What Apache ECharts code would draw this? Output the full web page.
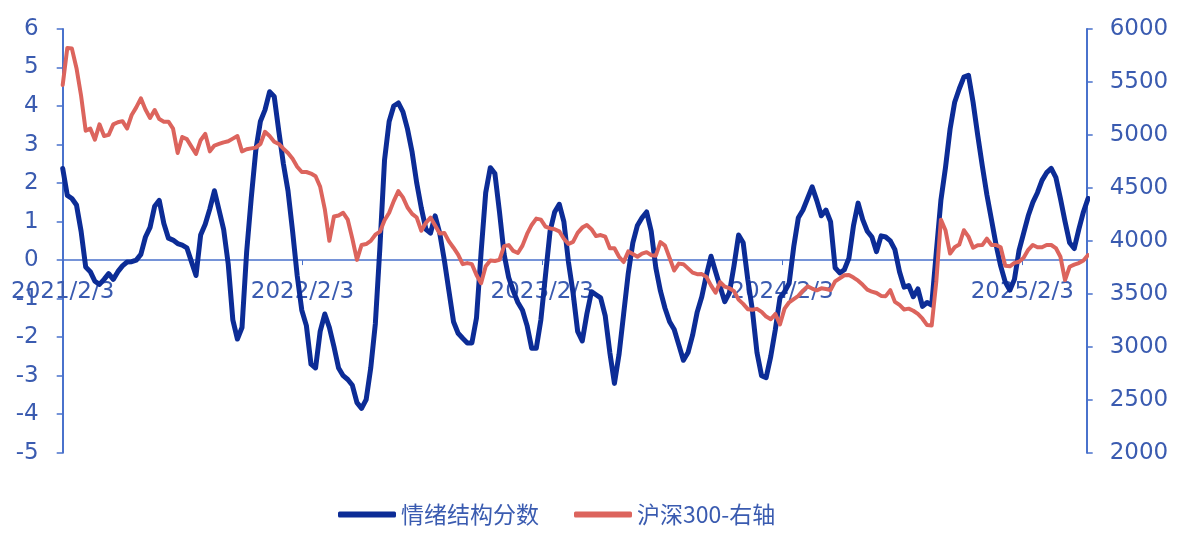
<!DOCTYPE html>
<html><head><meta charset="utf-8">
<script src="https://cdn.jsdelivr.net/npm/echarts@6/dist/echarts.min.js"></script>
<style>html,body{margin:0;padding:0;background:#fff}#c{width:1188px;height:540px}</style>
</head><body><div id="c"></div>
<script>
// Weekly samples starting 2021-02-03
const startDate = [2021, 1, 3];
const endDate = [2025, 4, 12];
const stepDays = 7;
const xTickLabels = ['2021/2/3', '2022/2/3', '2023/2/3', '2024/2/3', '2025/2/3'];
const seriesNames = ['情绪结构分数', '沪深300-右轴'];
const leftTicks = { min: -5, max: 6, interval: 1 };
const rightTicks = { min: 2000, max: 6000, interval: 500 };

const sentiment = [
 2.38, 1.68, 1.6, 1.43, 0.75, -0.18, -0.3, -0.55, -0.63, -0.5,
 -0.35, -0.5, -0.3, -0.15, -0.05, -0.04, 0.0, 0.15, 0.6, 0.85,
 1.4, 1.55, 0.95, 0.57, 0.52, 0.43, 0.39, 0.32, -0.04, -0.4,
 0.65, 0.93, 1.33, 1.8, 1.3, 0.8, -0.1, -1.55, -2.05, -1.75,
 0.2, 1.6, 2.85, 3.6, 3.9, 4.37, 4.25, 3.35, 2.5, 1.8,
 0.75, -0.4, -1.3, -1.7, -2.7, -2.8, -1.85, -1.4, -1.75, -2.25,
 -2.8, -3.0, -3.1, -3.25, -3.7, -3.85, -3.62, -2.8, -1.65, 0.35,
 2.6, 3.6, 4.0, 4.08, 3.85, 3.4, 2.8, 2.0, 1.35, 0.8,
 0.7, 1.15, 0.7, 0.0, -0.8, -1.6, -1.9, -2.03, -2.15, -2.15,
 -1.5, 0.2, 1.75, 2.4, 2.25, 1.25, 0.15, -0.45, -0.8, -1.1,
 -1.3, -1.7, -2.29, -2.29, -1.55, -0.4, 0.75, 1.25, 1.45, 1.0,
 -0.05, -0.85, -1.85, -2.1, -1.4, -0.82, -0.9, -0.98, -1.45, -2.4,
 -3.2, -2.45, -1.4, -0.35, 0.45, 0.9, 1.1, 1.25, 0.75, -0.2,
 -0.8, -1.25, -1.6, -1.8, -2.2, -2.6, -2.4, -1.95, -1.35, -0.95,
 -0.39, 0.1, -0.3, -0.7, -1.08, -0.85, -0.15, 0.65, 0.45, -0.5,
 -1.3, -2.4, -3.0, -3.05, -2.5, -1.8, -0.98, -0.82, -0.6, 0.35,
 1.1, 1.3, 1.6, 1.9, 1.55, 1.15, 1.3, 1.0, -0.2, -0.33,
 -0.25, 0.05, 0.9, 1.48, 1.05, 0.75, 0.6, 0.22, 0.63, 0.6,
 0.5, 0.27, -0.3, -0.7, -0.66, -0.95, -0.75, -1.2, -1.1, -1.17,
 0.2, 1.55, 2.4, 3.4, 4.1, 4.45, 4.75, 4.8, 4.1, 3.25,
 2.45, 1.7, 1.05, 0.4, -0.15, -0.57, -0.78, -0.5, 0.25, 0.7,
 1.15, 1.5, 1.75, 2.07, 2.27, 2.38, 2.15, 1.6, 1.0, 0.45,
 0.3, 0.8, 1.25, 1.6
];

const csi300 = [
 5471, 5820, 5815, 5630, 5370, 5040, 5060, 4955, 5100, 4990,
 5000, 5100, 5120, 5130, 5060, 5188, 5260, 5345, 5240, 5160,
 5235, 5150, 5125, 5125, 5060, 4830, 4980, 4960, 4890, 4820,
 4950, 5010, 4845, 4900, 4915, 4930, 4940, 4965, 4990, 4845,
 4865, 4873, 4880, 4915, 5030, 4990, 4936, 4915, 4870, 4830,
 4775, 4700, 4650, 4650, 4635, 4610, 4510, 4300, 4000, 4230,
 4240, 4265, 4200, 4020, 3820, 3961, 3970, 4000, 4058, 4087,
 4195, 4265, 4375, 4470, 4410, 4315, 4255, 4220, 4095, 4170,
 4220, 4145, 4070, 4075, 3995, 3935, 3870, 3780, 3790, 3780,
 3677, 3600, 3760, 3815, 3810, 3820, 3950, 3960, 3905, 3885,
 3955, 4065, 4150, 4210, 4200, 4135, 4118, 4110, 4090, 4020,
 3970, 3990, 4075, 4125, 4149, 4110, 4045, 4055, 4040, 3930,
 3930, 3850, 3800, 3900, 3875, 3850, 3880, 3893, 3865, 3860,
 3988, 3955, 3838, 3720, 3785, 3780, 3740, 3700, 3685, 3686,
 3660, 3580, 3510, 3610, 3567, 3553, 3525, 3445, 3405, 3355,
 3350, 3358, 3330, 3285, 3260, 3310, 3210, 3360, 3420, 3450,
 3480, 3530, 3570, 3550, 3533, 3552, 3545, 3535, 3617, 3646,
 3675, 3677, 3653, 3624, 3585, 3540, 3520, 3508, 3480, 3478,
 3535, 3424, 3395, 3352, 3360, 3340, 3310, 3265, 3205, 3200,
 3614, 4200, 4100, 3880, 3940, 3965, 4100, 4040, 3935, 3958,
 3960, 4020, 3961, 3961, 3940, 3765, 3760, 3792, 3803, 3840,
 3915, 3961, 3940, 3940, 3961, 3961, 3932, 3850, 3630, 3755,
 3775, 3790, 3815, 3866
];

const dates = sentiment.map((_, i) => new Date(startDate[0], startDate[1], startDate[2] + stepDays * i).getTime());
function parseSlash(s){ const p = s.split('/').map(Number); return new Date(p[0], p[1] - 1, p[2]).getTime(); }
const tickTimes = xTickLabels.map(parseSlash);

const axisColor = '#4A72CC';
const labelColor = '#3A5BB0';
const blue = '#0C2C96';
const red = '#DC645D';
const numFont = 'DejaVu Sans';
const cjkFont = 'Noto Sans CJK SC';

const W = 1188, H = 540;
const grid = { left: 62.7, right: 101.3, top: 29, bottom: 87.3 };
const gridH = H - grid.top - grid.bottom;
// place the date axis on the zero line of the left axis
const zeroOffset = -gridH * (0 - leftTicks.min) / (leftTicks.max - leftTicks.min);

const chart = echarts.init(document.getElementById('c'), null, { renderer: 'canvas', width: W, height: H });
chart.setOption({
  animation: false,
  backgroundColor: '#ffffff',
  grid: Object.assign({ containLabel: false }, grid),
  legend: {
    left: 333, top: 498, itemGap: 35, itemWidth: 58, itemHeight: 6, icon: 'roundRect',
    textStyle: { fontSize: 23, fontFamily: cjkFont, color: labelColor },
    data: seriesNames
  },
  xAxis: {
    type: 'value',
    position: 'bottom',
    offset: zeroOffset,
    min: new Date(startDate[0], startDate[1], startDate[2]).getTime(),
    max: new Date(endDate[0], endDate[1], endDate[2]).getTime(),
    axisLine: { show: true, onZero: false, lineStyle: { color: axisColor, width: 1.5 } },
    axisTick: { show: true, customValues: tickTimes, length: 5, lineStyle: { color: axisColor } },
    axisLabel: {
      customValues: tickTimes, margin: 20, fontSize: 23, fontFamily: numFont, color: labelColor,
      formatter: function (v) { const d = new Date(v); return d.getFullYear() + '/' + (d.getMonth() + 1) + '/' + d.getDate(); }
    },
    splitLine: { show: false }
  },
  yAxis: [
    {
      type: 'value', min: leftTicks.min, max: leftTicks.max, interval: leftTicks.interval,
      axisLine: { show: true, onZero: false, lineStyle: { color: axisColor, width: 2 } },
      axisTick: { show: true, length: 6, lineStyle: { color: axisColor, width: 1.5 } },
      axisLabel: { margin: 24, fontSize: 23, fontFamily: numFont, color: labelColor, formatter: v => String(v) },
      splitLine: { show: false }
    },
    {
      type: 'value', min: rightTicks.min, max: rightTicks.max, interval: rightTicks.interval,
      position: 'right',
      axisLine: { show: true, onZero: false, lineStyle: { color: axisColor, width: 2 } },
      axisTick: { show: true, length: 6, lineStyle: { color: axisColor, width: 1.5 } },
      axisLabel: { margin: 23, fontSize: 23, fontFamily: numFont, color: labelColor, formatter: v => String(v) },
      splitLine: { show: false }
    }
  ],
  series: [
    {
      name: seriesNames[0], type: 'line', yAxisIndex: 0, showSymbol: false, symbol: 'none',
      data: dates.map((d, i) => [d, sentiment[i]]),
      lineStyle: { color: blue, width: 5, cap: 'round', join: 'round' },
      itemStyle: { color: blue }
    },
    {
      name: seriesNames[1], type: 'line', yAxisIndex: 1, showSymbol: false, symbol: 'none',
      data: dates.map((d, i) => [d, csi300[i]]),
      lineStyle: { color: red, width: 4, cap: 'round', join: 'round' },
      itemStyle: { color: red }
    }
  ]
});
</script>
</body></html>
